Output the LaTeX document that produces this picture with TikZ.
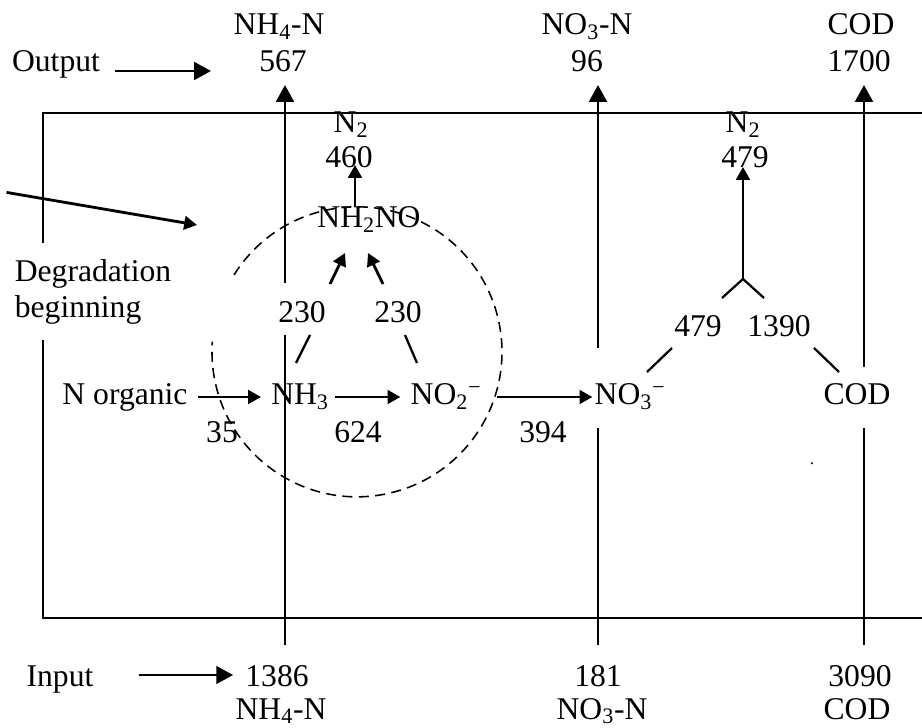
\documentclass[tikz,border=0pt]{standalone}
\usepackage{fontspec}
\setmainfont{Liberation Serif}
\usetikzlibrary{arrows.meta,calc}
\definecolor{flowink}{HTML}{000000}
\tikzset{
  flowtext/.style={font=\fontsize{22.5}{25.5}\selectfont, text=flowink,
    inner sep=0pt, anchor=base},
  boxline/.style={draw=flowink, line width=1.4pt},
  flowline/.style={draw=flowink, line width=2pt},
  thinline/.style={draw=flowink, line width=1.6pt},
  bigflow/.style={-{Triangle[length=4.2mm,width=4.4mm]}, draw=flowink,
    line width=2pt},
  flow/.style={-{Triangle[length=3.2mm,width=3.4mm]}, draw=flowink,
    line width=2pt},
  zonering/.style={draw=flowink, line width=1.1pt,
    dash pattern=on 2.5mm off 1.6mm}
}

\begin{document}
\begin{tikzpicture}[x=0.025cm,y=-0.025cm]
  \useasboundingbox (0,0) rectangle (922,728);

  % reactor frame, open to the right
  \draw[boxline] (922,113) -| (43,243);
  \draw[boxline] (43,340) |- (922,618);

  % output side
  \node[flowtext] (outnh) at (279,35) {NH\textsubscript{4}-N};
  \node[flowtext] (outnhval) at (283,72) {567};
  \node[flowtext] (outno) at (587,35) {NO\textsubscript{3}-N};
  \node[flowtext] (outnoval) at (587,72) {96};
  \node[flowtext] (outcod) at (861,35) {COD};
  \node[flowtext] (outcodval) at (859,72) {1700};
  \node[flowtext] (outputlbl) at (56,72) {Output};
  \draw[bigflow] ([shift={(15,-1)}]outputlbl.base east)
    -- ([shift={(-48,-1)}]outnhval.base west);

  % input side
  \node[flowtext] (innhval) at (277,686) {1386};
  \node[flowtext] (innh) at (281,719) {NH\textsubscript{4}-N};
  \node[flowtext] (innoval) at (598,686) {181};
  \node[flowtext] (inno) at (602,719) {NO\textsubscript{3}-N};
  \node[flowtext] (incodval) at (860,686) {3090};
  \node[flowtext] (incod) at (857,719) {COD};
  \node[flowtext] (inputlbl) at (60,686) {Input};
  \draw[bigflow] ([shift={(45,-11)}]inputlbl.base east)
    -- ([shift={(-12,-11)}]innhval.base west);

  % main chain
  \node[flowtext] (norg) at (125,405) {N organic};
  \node[flowtext] (nhthree) at (300,405) {NH\textsubscript{3}};
  \node[flowtext] (notwo) at (446,405) {NO\textsubscript{2}\textsuperscript{−}};
  \node[flowtext] (nothree) at (630,405) {NO\textsubscript{3}\textsuperscript{−}};
  \node[flowtext] (codmid) at (857,405) {COD};
  \node[flowtext] (rateorg) at (222,442) {35};
  \node[flowtext] (ratenit) at (358,442) {624};
  \node[flowtext] (ratenat) at (543,442) {394};
  \draw[flow] ([shift={(10,-8)}]norg.base east)
    -- ([shift={(-10,-8)}]nhthree.base west);
  \draw[flow] ([shift={(6,-8)}]nhthree.base east)
    -- ([shift={(-10,-8)}]notwo.base west);
  \draw[flow] ([shift={(15,-8)}]notwo.base east)
    -- ([shift={(-2,-8)}]nothree.base west);

  % anammox branch
  \node[flowtext] (ntwoa) at (351,133) {N\textsubscript{2}};
  \node[flowtext] (ntwoaval) at (349,168) {460};
  \node[flowtext] (nhtwono) at (369,228) {NH\textsubscript{2}NO};
  \node[flowtext] (rateam) at (302,323) {230};
  \node[flowtext] (ratenn) at (398,323) {230};
  \draw[thinline] ([shift={(-4,-42)}]nhthree.base)
    -- ([shift={(8,12)}]rateam.base);
  \draw[flow] ([shift={(28,-39)}]rateam.base)
    -- ([shift={(-24,25)}]nhtwono.base);
  \draw[thinline] ([shift={(-29,-42)}]notwo.base)
    -- ([shift={(7,12)}]ratenn.base);
  \draw[flow] ([shift={(-15,-39)}]ratenn.base)
    -- ([shift={(-1,25)}]nhtwono.base);
  \draw[flow] ([shift={(-14,-21)}]nhtwono.base)
    -- ([shift={(6,-3)}]ntwoaval.base);

  % denitrification branch
  \node[flowtext] (ntwob) at (743,133) {N\textsubscript{2}};
  \node[flowtext] (ntwobval) at (745,168) {479};
  \node[flowtext] (ratedn) at (698,337) {479};
  \node[flowtext] (ratecod) at (779,337) {1390};
  \coordinate (fork) at (743,279);
  \draw[thinline] ([shift={(17,-33)}]nothree.base)
    -- ([shift={(-26,11)}]ratedn.base);
  \draw[thinline] ([shift={(24,-39)}]ratedn.base) -- (fork)
    -- ([shift={(-15,-39)}]ratecod.base);
  \draw[thinline] ([shift={(-18,-33)}]codmid.base)
    -- ([shift={(35,11)}]ratecod.base);
  \draw[flow] (fork) -- ([shift={(-2,-1)}]ntwobval.base);
  \node[flowtext, font=\fontsize{12}{14}\selectfont] (stray) at (812,464) {.};

  % through-flows
  \draw[flowline] ([shift={(8,-41)}]innhval.base)
    -- ([shift={(-17,12)}]rateam.base);
  \draw[bigflow] ([shift={(-17,-40)}]rateam.base)
    -- ([shift={(2,13)}]outnhval.base);
  \draw[flowline] ([shift={(0,-41)}]innoval.base)
    -- ([shift={(-32,23)}]nothree.base);
  \draw[bigflow] ([shift={(-32,-57)}]nothree.base)
    -- ([shift={(11,13)}]outnoval.base);
  \draw[flowline] ([shift={(4,-41)}]incodval.base)
    -- ([shift={(7,23)}]codmid.base);
  \draw[bigflow] ([shift={(7,-38)}]codmid.base)
    -- ([shift={(5,13)}]outcodval.base);

  % degradation zone
  \coordinate (zonec) at (357,352);
  \draw[zonering] (234,275) arc[start angle=212, end angle=544, radius=145];
  \node[flowtext, align=left, anchor=center] (degr) at (93,292)
    {Degradation\\beginning};
  \coordinate (zonetip) at (197,225);
  \draw[flow] ([shift={(-8,-67)}]degr.north west) -- (zonetip);
\end{tikzpicture}
\end{document}
